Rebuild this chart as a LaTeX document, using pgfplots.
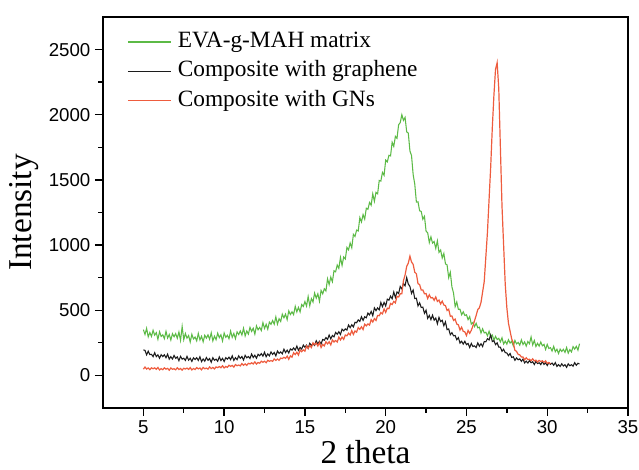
\documentclass[border=0pt]{standalone}
\usepackage{fontspec}
\setmainfont{Liberation Serif}
\newfontfamily\arial{Liberation Sans}
\usepackage{pgfplots}
\usepackage{pgfplotstable}
\pgfplotsset{compat=1.18}

\definecolor{evagreen}{RGB}{92,186,70}
\definecolor{gnsred}{RGB}{238,92,62}
\definecolor{grblack}{RGB}{28,28,28}

% columns: 2theta, EVA-g-MAH matrix, composite with graphene, composite with GNs
\pgfplotstableread{
x g b r
5.0 351 196 48
5.1 314 192 64
5.2 361 158 49
5.3 296 186 57
5.4 329 160 44
5.5 299 162 58
5.6 346 144 51
5.7 309 174 58
5.8 328 144 47
5.9 277 158 61
6.0 335 132 42
6.1 299 159 52
6.2 312 145 44
6.3 282 158 58
6.4 338 136 48
6.5 287 163 54
6.6 314 125 40
6.7 271 144 57
6.8 320 126 47
6.9 297 153 51
7.0 321 131 43
7.1 285 142 59
7.2 333 113 45
7.3 269 146 53
7.4 375 125 41
7.5 274 132 55
7.6 322 115 49
7.7 286 146 56
7.8 306 117 46
7.9 256 132 60
8.0 315 107 42
8.1 280 135 53
8.2 294 122 45
8.3 265 136 60
8.4 322 115 50
8.5 272 143 57
8.6 300 106 43
8.7 258 126 61
8.8 308 109 51
8.9 286 137 56
9.0 311 116 48
9.1 277 129 65
9.2 327 101 52
9.3 265 136 61
9.4 301 116 50
9.5 274 125 65
9.6 324 109 60
9.7 290 142 68
9.8 312 114 59
9.9 264 131 74
10.0 325 107 57
10.1 292 136 69
10.2 308 125 62
10.3 281 140 78
10.4 340 121 69
10.5 292 150 77
10.6 322 115 64
10.7 282 136 83
10.8 334 121 74
10.9 314 150 80
11.0 341 131 73
11.1 310 145 91
11.2 362 118 78
11.3 303 154 88
11.4 341 135 77
11.5 317 145 93
11.6 369 130 88
11.7 338 164 97
11.8 362 137 88
11.9 317 155 104
12.0 380 132 87
12.1 350 162 99
12.2 368 151 93
12.3 344 167 109
12.4 405 148 101
12.5 360 178 109
12.6 392 143 97
12.7 355 165 116
12.8 409 150 108
12.9 392 180 114
13.0 421 161 108
13.1 393 176 127
13.2 449 150 115
13.3 393 187 126
13.4 435 169 116
13.5 414 180 133
13.6 470 166 129
13.7 442 201 139
13.8 470 175 131
13.9 428 194 148
14.0 495 172 124
14.1 467 203 150
14.2 488 194 140
14.3 466 211 174
14.4 530 194 160
14.5 487 225 178
14.6 522 192 156
14.7 487 215 196
14.8 544 202 182
14.9 529 233 196
15.0 567 216 186
15.1 532 232 226
15.2 605 208 206
15.3 534 246 230
15.4 589 230 214
15.5 563 242 250
15.6 632 230 236
15.7 593 266 248
15.8 626 242 226
15.9 569 262 252
16.0 652 242 214
16.1 626 276 238
16.2 665 270 226
16.3 648 290 258
16.4 741 276 242
16.5 697 310 258
16.6 754 280 234
16.7 719 306 272
16.8 803 296 256
16.9 795 330 268
17.0 847 316 256
17.1 822 335 294
17.2 905 314 272
17.3 844 355 294
17.4 909 342 276
17.5 893 357 310
17.6 982 348 304
17.7 963 387 324
17.8 1016 366 310
17.9 979 389 344
18.0 1082 372 314
18.1 1066 408 341
18.2 1115 404 332
18.3 1108 426 367
18.4 1211 414 354
18.5 1177 450 373
18.6 1234 422 352
18.7 1199 450 393
18.8 1283 442 380
18.9 1275 478 395
19.0 1327 464 386
19.1 1306 491 428
19.2 1393 458 410
19.3 1336 518 436
19.4 1405 497 422
19.5 1393 518 460
19.6 1496 503 458
19.7 1491 560 482
19.8 1558 527 472
19.9 1535 560 510
20.0 1652 533 484
20.1 1638 585 516
20.2 1689 577 512
20.3 1684 608 552
20.4 1789 588 544
20.5 1757 640 568
20.6 1834 598 556
20.7 1819 640 606
20.8 1923 628 602
20.9 1940 682 626
21.0 2000 664 626
21.1 1957 705 728
21.2 1980 687 770
21.3 1869 750 836
21.4 1859 701 862
21.5 1723 683 915
21.6 1686 629 870
21.7 1541 655 852
21.8 1468 590 792
21.9 1330 592 780
22.0 1332 533 704
22.1 1263 557 697
22.2 1258 521 655
22.3 1198 524 656
22.4 1221 476 626
22.5 1107 500 628
22.6 1094 438 590
22.7 1019 460 619
22.8 1063 428 594
22.9 1015 462 597
23.0 1027 424 576
23.1 975 440 602
23.2 1032 396 568
23.3 944 445 578
23.4 962 413 548
23.5 900 423 570
23.6 936 381 540
23.7 856 411 536
23.8 848 351 498
23.9 750 357 508
24.0 792 312 454
24.1 679 328 456
24.2 632 304 422
24.3 528 306 432
24.4 563 274 394
24.5 507 290 388
24.6 508 248 348
24.7 465 262 370
24.8 488 240 338
24.9 460 262 334
25.0 465 236 306
25.1 428 245 345
25.2 451 214 323
25.3 394 245 346
25.4 407 222 380
25.5 375 227 420
25.6 400 214 460
25.7 365 249 505
25.8 370 224 519
25.9 325 243 560
26.0 358 222 640
26.1 326 260 720
26.2 331 258 910
26.3 304 282 1100
26.4 339 272 1350
26.5 297 310 1600
26.6 310 260 1900
26.7 271 266 2150
26.8 299 236 2350
26.9 275 250 2400
27.0 285 217 2200
27.1 257 216 1750
27.2 289 185 1300
27.3 241 201 1000
27.4 263 175 700
27.5 240 172 520
27.6 274 151 400
27.7 248 168 340
27.8 262 138 280
27.9 226 143 250
28.0 268 116 192
28.1 242 134 185
28.2 253 120 161
28.3 232 127 158
28.4 273 108 141
28.5 237 125 141
28.6 257 96 120
28.7 225 109 135
28.8 260 95 122
28.9 243 114 124
29.0 295 97 113
29.1 234 105 127
29.2 268 83 111
29.3 222 108 117
29.4 246 91 103
29.5 225 97 115
29.6 256 83 107
29.7 227 107 112
29.8 238 84 100
29.9 199 96 112
30.0 238 76 92
30.1 207 97 99
30.2 213 85 89
30.3 187 95 nan
30.4 223 78 nan
30.5 182 98 nan
30.6 201 69 nan
30.7 168 83 nan
30.8 202 69 nan
30.9 184 89 nan
31.0 200 72 nan
31.1 177 82 nan
31.2 214 62 nan
31.3 171 89 nan
31.4 198 74 nan
31.5 180 82 nan
31.6 221 71 nan
31.7 202 98 nan
31.8 223 78 nan
31.9 194 93 nan
32.0 243 88 nan
}\xrd

\begin{document}
\begin{tikzpicture}
\path[use as bounding box] (-77.25pt,-46.5pt) rectangle (402pt,306pt);
\begin{axis}[
    scale only axis,
    width=393.75pt, height=293.25pt,
    xmin=2.5, xmax=35,
    ymin=-250, ymax=2750,
    xtick={5,10,...,35},
    ytick={0,500,...,2500},
    minor x tick num=1,
    minor y tick num=1,
    tick align=outside,
    xtick pos=bottom, ytick pos=left,
    major tick length=6pt,
    minor tick length=3.5pt,
    every tick/.style={black, line width=1pt},
    axis line style={black, line width=1.4pt},
    /pgf/number format/1000 sep={},
    /pgf/number format/assume math mode=true,
    tick label style={font=\arial\fontsize{14}{14}\selectfont},
    xlabel={2 theta},
    ylabel={Intensity},
    label style={font=\fontsize{25}{25}\selectfont},
    xlabel style={at={(axis description cs:0.5,-0.1125)}, anchor=center},
    ylabel style={at={(axis description cs:-0.150,0.5)}, anchor=center},
    legend cell align=left,
    legend image code/.code={\draw[#1] (0pt,0pt) -- (32pt,0pt);},
    legend style={at={(axis description cs:0.0457,0.964)}, anchor=north west,
        draw=none, fill=none, inner sep=0pt, row sep=6pt,
        font=\fontsize{17.5}{17.5}\selectfont,
        nodes={inner sep=0pt, text height=12pt, text depth=4pt},
        /tikz/every odd column/.append style={column sep=5pt}},
]
\addplot[evagreen, line width=0.8pt] table[x=x, y=g] {\xrd};
\addplot[grblack, line width=0.8pt] table[x=x, y=b] {\xrd};
\addplot[gnsred, line width=0.9pt] table[x=x, y=r] {\xrd};
\legend{EVA-g-MAH matrix, Composite with graphene, Composite with GNs}
\end{axis}
\end{tikzpicture}
\end{document}
